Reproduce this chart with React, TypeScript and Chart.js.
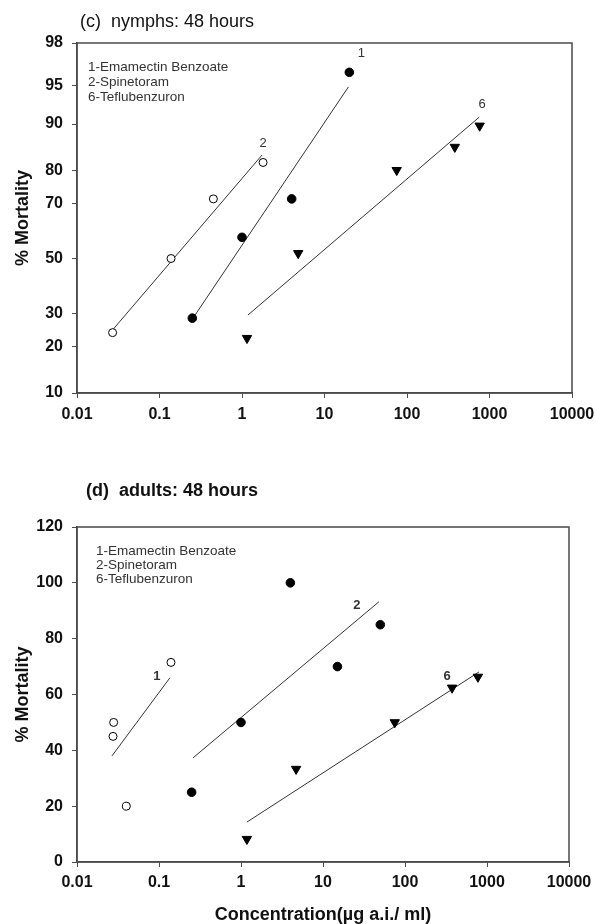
import React, { useEffect, useRef } from 'react';
import { Chart, registerables, LinearScale } from 'chart.js';

Chart.register(...registerables);

// ---------- data ----------
const X_TICKS = [0.01, 0.1, 1, 10, 100, 1000, 10000];
const NYMPH_Y_TICKS = [10, 20, 30, 50, 70, 80, 90, 95, 98];
const ADULT_Y_TICKS = [0, 20, 40, 60, 80, 100, 120];

const LEGEND_LINES = ['1-Emamectin Benzoate', '2-Spinetoram', '6-Teflubenzuron'];

// (c) nymphs: 48 hours
const nymphOpenX = [0.027, 0.138, 0.45, 1.8];
const nymphOpenY = [24, 50, 71.5, 82];
const nymphFilledX = [0.25, 1, 4, 20];
const nymphFilledY = [28.5, 58, 71.5, 96.2];
const nymphTriX = [1.15, 4.8, 75, 380, 760];
const nymphTriY = [22.4, 52, 80, 85.6, 89.7];
const nymphFit2X = [0.027, 1.75];
const nymphFit2Y = [24.8, 83.8];
const nymphFit1X = [0.27, 19.5];
const nymphFit1Y = [29.5, 94.9];
const nymphFit6X = [1.18, 750];
const nymphFit6Y = [29.5, 91.1];

// (d) adults: 48 hours
const adultOpenX = [0.028, 0.0275, 0.04, 0.14];
const adultOpenY = [50, 45, 20, 71.5];
const adultFilledX = [0.25, 1, 4, 15, 50];
const adultFilledY = [25, 50, 100, 70, 85];
const adultTriX = [1.18, 4.7, 75, 375, 775];
const adultTriY = [8.2, 33.3, 50, 62.4, 66.3];
const adultFit1X = [0.0267, 0.136];
const adultFit1Y = [38, 66];
const adultFit2X = [0.26, 48];
const adultFit2Y = [37.3, 93.2];
const adultFit6X = [1.18, 800];
const adultFit6Y = [14.3, 68.1];

// ---------- probit scale ----------
function probit(p: number): number {
  const a = [-3.969683028665376e1, 2.209460984245205e2, -2.759285104469687e2, 1.38357751867269e2, -3.066479806614716e1, 2.506628277459239];
  const b = [-5.447609879822406e1, 1.615858368580409e2, -1.556989798598866e2, 6.680131188771972e1, -1.328068155288572e1];
  const c = [-7.784894002430293e-3, -3.223964580411365e-1, -2.400758277161838, -2.549671067016283, 4.374664141464968, 2.938163982698783];
  const d = [7.784695709041462e-3, 3.224671290700398e-1, 2.445134137142996, 3.754408661907416];
  const pl = 0.02425;
  const ph = 1 - pl;
  let q: number, r: number;
  if (p < pl) {
    q = Math.sqrt(-2 * Math.log(p));
    return (((((c[0] * q + c[1]) * q + c[2]) * q + c[3]) * q + c[4]) * q + c[5]) / ((((d[0] * q + d[1]) * q + d[2]) * q + d[3]) * q + 1);
  }
  if (p <= ph) {
    q = p - 0.5;
    r = q * q;
    return ((((((a[0] * r + a[1]) * r + a[2]) * r + a[3]) * r + a[4]) * r + a[5]) * q) / (((((b[0] * r + b[1]) * r + b[2]) * r + b[3]) * r + b[4]) * r + 1);
  }
  q = Math.sqrt(-2 * Math.log(1 - p));
  return -(((((c[0] * q + c[1]) * q + c[2]) * q + c[3]) * q + c[4]) * q + c[5]) / ((((d[0] * q + d[1]) * q + d[2]) * q + d[3]) * q + 1);
}

function normCdf(z: number): number {
  const t = 1 / (1 + 0.3275911 * Math.abs(z) / Math.SQRT2);
  const y = 1 - (((((1.061405429 * t - 1.453152027) * t) + 1.421413741) * t - 0.284496736) * t + 0.254829592) * t * Math.exp(-(z * z) / 2);
  return z >= 0 ? 0.5 * (1 + y) : 0.5 * (1 - y);
}

class ProbitScale extends LinearScale {
  static id = 'probit';
  buildTicks() {
    const opts: any = (this as any).options;
    const list: number[] = opts.tickValues || [];
    const self: any = this;
    self.start = self.min;
    self.end = self.max;
    return list.filter((v) => v >= self.min && v <= self.max).map((v) => ({ value: v }));
  }
  getPixelForValue(value: number) {
    if (value === null || value === undefined || isNaN(value)) return NaN;
    const self: any = this;
    const z0 = probit(self.min / 100);
    const z1 = probit(self.max / 100);
    return this.getPixelForDecimal((probit(value / 100) - z0) / (z1 - z0));
  }
  getValueForPixel(pixel: number) {
    const self: any = this;
    const z0 = probit(self.min / 100);
    const z1 = probit(self.max / 100);
    const dec = this.getDecimalForPixel(pixel);
    return 100 * normCdf(z0 + dec * (z1 - z0));
  }
}
Chart.register(ProbitScale as any);

// ---------- helpers ----------
const FONT = "'Liberation Sans', Arial, sans-serif";
const AXIS = '#4a4a4a';
const INK = '#111';

const pts = (xs: number[], ys: number[]) => xs.map((x, i) => ({ x, y: ys[i] }));

const openCircle = (xs: number[], ys: number[]) => ({
  data: pts(xs, ys),
  pointStyle: 'circle',
  pointRadius: 4,
  pointBackgroundColor: '#fff',
  pointBorderColor: '#000',
  pointBorderWidth: 1,
  showLine: false,
});
const filledCircle = (xs: number[], ys: number[]) => ({
  data: pts(xs, ys),
  pointStyle: 'circle',
  pointRadius: 4.3,
  pointBackgroundColor: '#000',
  pointBorderColor: '#000',
  pointBorderWidth: 1,
  showLine: false,
});
const downTriangle = (xs: number[], ys: number[]) => ({
  data: pts(xs, ys),
  pointStyle: 'triangle',
  pointRotation: 180,
  pointRadius: 5.4,
  pointBackgroundColor: '#000',
  pointBorderColor: '#000',
  pointBorderWidth: 1,
  showLine: false,
});
const fitLine = (xs: number[], ys: number[]) => ({
  data: pts(xs, ys),
  showLine: true,
  pointRadius: 0,
  borderColor: '#333',
  borderWidth: 1,
  fill: false,
});

const decorPlugin = {
  id: 'decor',
  afterDraw(chart: any, _args: any, opts: any) {
    const { ctx, chartArea } = chart;
    ctx.save();
    // frame
    ctx.strokeStyle = AXIS;
    ctx.lineWidth = 1.5;
    ctx.strokeRect(chartArea.left, chartArea.top, chartArea.right - chartArea.left, chartArea.bottom - chartArea.top);
    // title
    ctx.fillStyle = INK;
    ctx.textBaseline = 'middle';
    ctx.textAlign = 'left';
    ctx.font = `${opts.titleBold ? 'bold ' : ''}18px ${FONT}`;
    ctx.fillText(opts.title, opts.titleX, opts.titleY);
    // legend text
    ctx.fillStyle = '#333';
    ctx.font = `13.5px ${FONT}`;
    LEGEND_LINES.forEach((t: string, i: number) => {
      ctx.fillText(t, chartArea.left + opts.legendDx, chartArea.top + opts.legendDy + i * opts.legendGap);
    });
    // line labels
    ctx.textAlign = 'center';
    ctx.font = `${opts.labelBold ? 'bold ' : ''}13px ${FONT}`;
    (opts.labels || []).forEach((l: any) => {
      const meta = chart.getDatasetMeta(l.dataset);
      const el = meta.data[meta.data.length - 1];
      if (!el) return;
      ctx.fillText(l.text, el.x + l.dx, el.y + l.dy);
    });
    ctx.restore();
  },
};

const tickFont = { family: FONT, size: 16, weight: 'bold' as const };

function xScale(height: number, showTitle: boolean, tickPad: number) {
  return {
    type: 'logarithmic',
    min: 0.01,
    max: 10000,
    afterBuildTicks: (scale: any) => {
      scale.ticks = X_TICKS.map((v) => ({ value: v }));
    },
    afterFit: (scale: any) => {
      scale.height = height;
      scale.paddingLeft = 0;
      scale.paddingRight = 0;
    },
    grid: { display: true, drawOnChartArea: false, drawTicks: true, tickLength: 5, color: AXIS, tickColor: AXIS, tickWidth: 1 },
    border: { display: true, color: AXIS, width: 1.5 },
    ticks: {
      autoSkip: false,
      maxRotation: 0,
      minRotation: 0,
      padding: tickPad,
      color: INK,
      font: tickFont,
      callback: (v: any) => String(v),
    },
    title: {
      display: showTitle,
      text: 'Concentration(µg a.i./ ml)',
      color: INK,
      font: { family: FONT, size: 18, weight: 'bold', lineHeight: 1 },
      padding: { top: 0, bottom: 0 },
    },
  };
}

function yScaleCommon() {
  return {
    afterFit: (scale: any) => {
      scale.width = 77;
      scale.paddingTop = 0;
      scale.paddingBottom = 0;
    },
    grid: { display: true, drawOnChartArea: false, drawTicks: true, tickLength: 5, color: AXIS, tickColor: AXIS, tickWidth: 1 },
    border: { display: true, color: AXIS, width: 1.5 },
    title: {
      display: true,
      text: '% Mortality',
      color: INK,
      font: { family: FONT, size: 18, weight: 'bold', lineHeight: 1.2 },
      padding: { top: 12, bottom: 0 },
    },
  };
}

export default function App() {
  const topRef = useRef<HTMLCanvasElement | null>(null);
  const botRef = useRef<HTMLCanvasElement | null>(null);

  useEffect(() => {
    if (!topRef.current || !botRef.current) return;

    const top = new Chart(topRef.current, {
      type: 'scatter',
      data: {
        datasets: [
          openCircle(nymphOpenX, nymphOpenY),
          filledCircle(nymphFilledX, nymphFilledY),
          downTriangle(nymphTriX, nymphTriY),
          fitLine(nymphFit2X, nymphFit2Y),
          fitLine(nymphFit1X, nymphFit1Y),
          fitLine(nymphFit6X, nymphFit6Y),
        ] as any,
      },
      options: {
        responsive: false,
        animation: false,
        events: [],
        layout: { padding: { top: 43, right: 24, left: 0, bottom: 0 } },
        plugins: {
          legend: { display: false },
          tooltip: { enabled: false },
          decor: {
            title: '(c)  nymphs: 48 hours',
            titleBold: false,
            titleX: 80,
            titleY: 22,
            legendDx: 11,
            legendDy: 24,
            legendGap: 15,
            labelBold: false,
            labels: [
              { dataset: 4, text: '1', dx: 13, dy: -33 },
              { dataset: 3, text: '2', dx: 1, dy: -12 },
              { dataset: 5, text: '6', dx: 3, dy: -13 },
            ],
          },
        } as any,
        scales: {
          x: xScale(67, false, 7) as any,
          y: {
            ...yScaleCommon(),
            type: 'probit',
            min: 10,
            max: 98,
            tickValues: NYMPH_Y_TICKS,
            ticks: { autoSkip: false, padding: 9, color: INK, font: tickFont, callback: (v: any) => String(v) },
          } as any,
        },
      },
      plugins: [decorPlugin],
    });

    const bot = new Chart(botRef.current, {
      type: 'scatter',
      data: {
        datasets: [
          openCircle(adultOpenX, adultOpenY),
          filledCircle(adultFilledX, adultFilledY),
          downTriangle(adultTriX, adultTriY),
          fitLine(adultFit1X, adultFit1Y),
          fitLine(adultFit2X, adultFit2Y),
          fitLine(adultFit6X, adultFit6Y),
        ] as any,
      },
      options: {
        responsive: false,
        animation: false,
        events: [],
        layout: { padding: { top: 67, right: 27, left: 0, bottom: 0 } },
        plugins: {
          legend: { display: false },
          tooltip: { enabled: false },
          decor: {
            title: '(d)  adults: 48 hours',
            titleBold: true,
            titleX: 86,
            titleY: 31,
            legendDx: 19,
            legendDy: 24,
            legendGap: 14,
            labelBold: true,
            labels: [
              { dataset: 3, text: '1', dx: -13, dy: -1 },
              { dataset: 4, text: '2', dx: -22, dy: 4 },
              { dataset: 5, text: '6', dx: -32, dy: 5 },
            ],
          },
        } as any,
        scales: {
          x: xScale(62, true, 6) as any,
          y: {
            ...yScaleCommon(),
            type: 'linear',
            min: 0,
            max: 120,
            afterBuildTicks: (scale: any) => {
              scale.ticks = ADULT_Y_TICKS.map((v) => ({ value: v }));
            },
            ticks: { autoSkip: false, padding: 9, color: INK, font: tickFont, callback: (v: any) => String(v) },
          } as any,
        },
      },
      plugins: [decorPlugin],
    });

    return () => {
      top.destroy();
      bot.destroy();
    };
  }, []);

  return (
    <div style={{ position: 'absolute', left: 0, top: 0, width: 596, height: 924, background: '#fff', overflow: 'hidden' }}>
      <canvas ref={topRef} width={596} height={460} style={{ position: 'absolute', left: 0, top: 0, display: 'block' }} />
      <canvas ref={botRef} width={596} height={464} style={{ position: 'absolute', left: 0, top: 460, display: 'block' }} />
    </div>
  );
}
